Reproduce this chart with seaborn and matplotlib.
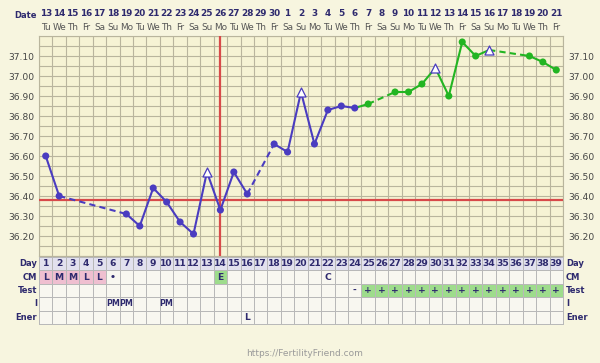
import numpy as np
import pandas as pd
import matplotlib
matplotlib.use("Agg")
import matplotlib.pyplot as plt
import matplotlib.transforms as mtransforms
from matplotlib.colors import ListedColormap
import seaborn as sns

plt.rcParams['font.family'] = ['DejaVu Sans']

# ---------------- data ----------------
date_nums = [13, 14, 15, 16, 17, 18, 19, 20, 21, 22, 23, 24, 25, 26, 27, 28, 29, 30,
             1, 2, 3, 4, 5, 6, 7, 8, 9, 10, 11, 12, 13, 14, 15, 16, 17, 18, 19, 20, 21]
weekdays = ["Tu", "We", "Th", "Fr", "Sa", "Su", "Mo"]

temp_days = [1, 2, 7, 8, 9, 10, 11, 12, 13, 14, 15, 16, 18, 19, 20, 21, 22, 23, 24,
             25, 27, 28, 29, 30, 31, 32, 33, 34, 37, 38, 39]
temps = [36.60, 36.40, 36.31, 36.25, 36.44, 36.37, 36.27, 36.21, 36.52, 36.33, 36.52,
         36.41, 36.66, 36.62, 36.92, 36.66, 36.83, 36.85, 36.84, 36.86, 36.92, 36.92,
         36.96, 37.04, 36.90, 37.17, 37.10, 37.13, 37.10, 37.07, 37.03]
triangle_days = [13, 20, 30, 34]
post_start_day = 25
coverline = 36.38
ovulation_day = 14

ytick_vals = [36.20, 36.30, 36.40, 36.50, 36.60, 36.70, 36.80, 36.90, 37.00, 37.10]

row_names = ["Day", "CM", "Test", "I", "Ener"]
cm_days = [1, 2, 3, 4, 5, 6, 14, 22]
cm_vals = ["L", "M", "M", "L", "L", "•", "E", "C"]
test_days = [24] + list(range(25, 40))
test_vals = ["-"] + ["+"] * 15
i_days = [6, 7, 10]
i_vals = ["PM", "PM", "PM"]
ener_days = [16]
ener_vals = ["L"]

# ---------------- style ----------------
purple = "#4a3cc0"
green = "#22b522"
red = "#d84a4a"
navy = "#2e2a6e"
fig_bg = "#f7f5df"
plot_bg = "#f6f3d4"
grid_c = "#b9b59d"

W, H = 600, 363
fig = plt.figure(figsize=(6.0, 3.63), dpi=100, facecolor=fig_bg)


def fx(x):
    return x / W


def fy(y):
    return 1 - y / H


left_px, right_px = 39, 563
top_px, bot_px = 36, 256
ax = fig.add_axes([fx(left_px), fy(bot_px), fx(right_px - left_px), (bot_px - top_px) / H])
ax.set_facecolor(plot_bg)
n_days = len(date_nums)
ax.set_xlim(0.5, n_days + 0.5)
ax.set_ylim(36.10, 37.20)

# grid
ax.set_xticks([])
ax.set_xticks(np.arange(0.5, n_days + 1, 1.0), minor=True)
ax.set_yticks(ytick_vals)
ax.set_yticklabels([f"{v:.2f}" for v in ytick_vals])
ax.set_yticks(np.arange(36.10, 37.2001, 0.05), minor=True)
ax.grid(which='minor', color=grid_c, linewidth=0.8)
ax.grid(which='major', axis='y', color=grid_c, linewidth=0.8)
ax.tick_params(which='both', length=0)
ax.tick_params(axis='y', labelleft=True, labelright=True, labelsize=6.6,
               labelcolor="#444444", pad=3.5)
for s in ax.spines.values():
    s.set_color(grid_c)
    s.set_linewidth(0.8)

# coverline & ovulation line
ax.axhline(coverline, color=red, lw=1.6, zorder=3)
ax.axvline(ovulation_day, color=red, lw=1.6, zorder=3)

# line segments
seg_rows = []
for k in range(len(temp_days) - 1):
    d0, d1 = temp_days[k], temp_days[k + 1]
    phase = "post" if d1 >= post_start_day else "pre"
    kind = "dash" if d1 - d0 > 1 else "solid"
    seg_rows.append((k, d0, temps[k], phase, kind))
    seg_rows.append((k, d1, temps[k + 1], phase, kind))
seg = pd.DataFrame(seg_rows, columns=["seg", "day", "temp", "phase", "kind"])
sns.lineplot(data=seg, x="day", y="temp", units="seg", estimator=None, sort=False,
             hue="phase", palette={"pre": purple, "post": green},
             style="kind", dashes={"solid": "", "dash": (3, 2)},
             linewidth=1.5, legend=False, ax=ax, zorder=4)

pts = pd.DataFrame({"day": temp_days, "temp": temps})
pts["phase"] = np.where(pts["day"] >= post_start_day, "post", "pre")
pts["tri"] = pts["day"].isin(triangle_days)
sns.scatterplot(data=pts[~pts["tri"]], x="day", y="temp", hue="phase",
                palette={"pre": purple, "post": green}, s=26, linewidth=0,
                legend=False, ax=ax, zorder=5)
sns.scatterplot(data=pts[pts["tri"]], x="day", y="temp", marker="^", s=42,
                color="white", edgecolor=purple, linewidth=0.9,
                legend=False, ax=ax, zorder=5)
ax.set_xlabel("")
ax.set_ylabel("")

# header: dates and weekdays
trans = mtransforms.blended_transform_factory(ax.transData, fig.transFigure)
for i, d in enumerate(date_nums):
    ax.text(i + 1, fy(14), str(d), transform=trans, ha="center", va="center",
            fontsize=6.4, fontweight="bold", color=navy)
    ax.text(i + 1, fy(27), weekdays[i % 7], transform=trans, ha="center", va="center",
            fontsize=6.4, color="#555555")
fig.text(fx(37), fy(15), "Date", ha="right", va="center", fontsize=6.0,
         fontweight="bold", color=navy)

# ---------------- table ----------------
tab_top, tab_bot = 257, 324
tax = fig.add_axes([fx(left_px), fy(tab_bot), fx(right_px - left_px), (tab_bot - tab_top) / H])
codes = np.zeros((len(row_names), n_days))
labels = np.full((len(row_names), n_days), "", dtype=object)
codes[0, :] = 1
for i in range(n_days):
    labels[0, i] = str(i + 1)
for d, v in zip(cm_days, cm_vals):
    labels[1, d - 1] = v
    if v in ("L", "M"):
        codes[1, d - 1] = 2
    elif v == "E":
        codes[1, d - 1] = 3
for d, v in zip(test_days, test_vals):
    labels[2, d - 1] = v
    if v == "+":
        codes[2, d - 1] = 3
for d, v in zip(i_days, i_vals):
    labels[3, d - 1] = v
for d, v in zip(ener_days, ener_vals):
    labels[4, d - 1] = v

cmap = ListedColormap(["#f8f7f0", "#e2e1ee", "#efbfd0", "#9edc8c"])
sns.heatmap(codes, ax=tax, cmap=cmap, vmin=-0.5, vmax=3.5, cbar=False,
            annot=labels, fmt="", linewidths=0.7, linecolor="#b8b8b8",
            annot_kws={"fontsize": 6.6, "fontweight": "bold", "color": navy})
for t in tax.texts:
    if t.get_text() in ("PM",):
        t.set_fontsize(5.8)
tax.set_xticks([])
tax.set_yticks([])
tax.set_xlabel("")
tax.set_ylabel("")
for s in tax.spines.values():
    s.set_visible(True)
    s.set_color("#b8b8b8")
    s.set_linewidth(0.7)

row_h = (tab_bot - tab_top) / len(row_names)
for r, name in enumerate(row_names):
    yc = tab_top + (r + 0.5) * row_h
    fig.text(fx(37), fy(yc), name, ha="right", va="center", fontsize=6.0,
             fontweight="bold", color=navy)
    fig.text(fx(566), fy(yc), name, ha="left", va="center", fontsize=6.0,
             fontweight="bold", color=navy)

fig.text(fx(305), fy(354), "https://FertilityFriend.com", ha="center", va="center",
         fontsize=6.5, color="#9a9a9a")

fig.savefig("out.png", dpi=100, facecolor=fig_bg)
